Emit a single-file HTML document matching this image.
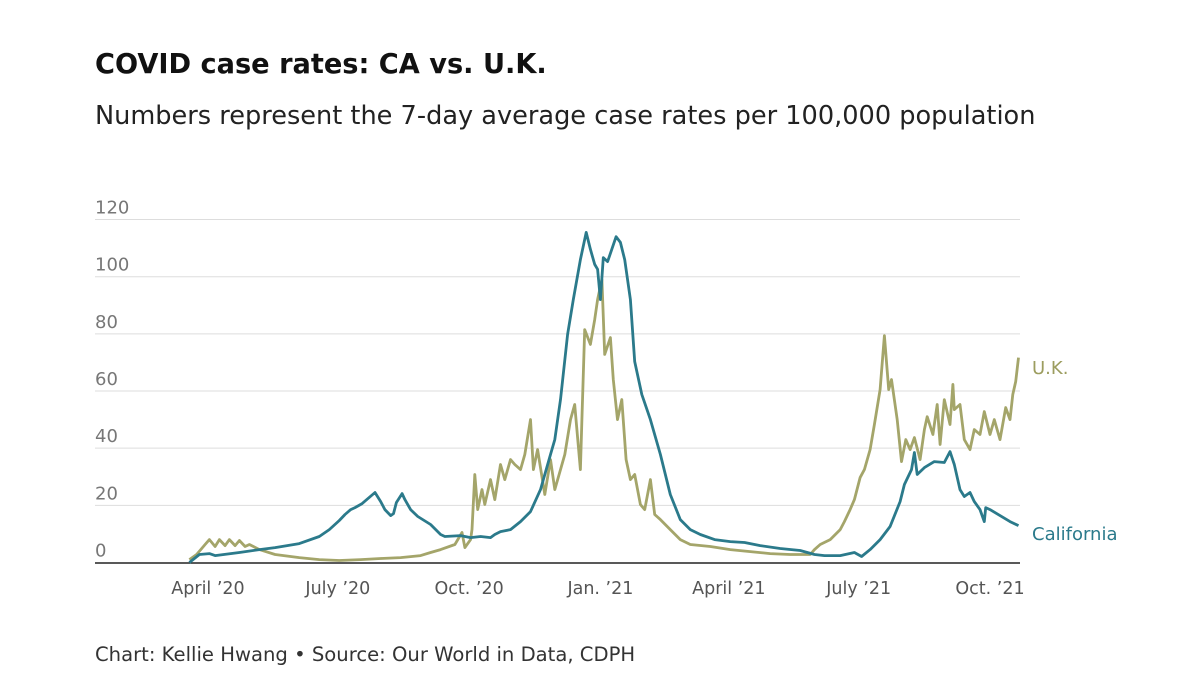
<!DOCTYPE html>
<html><head><meta charset="utf-8"><style>
body{margin:0;background:#fff;width:1200px;height:697px;overflow:hidden;font-family:"DejaVu Sans","Liberation Sans",sans-serif}
svg{position:absolute;left:0;top:0}
</style></head><body>
<svg width="1200" height="697" id="c" font-family="DejaVu Sans, Liberation Sans, sans-serif">
<text x="95" y="73" font-size="27.2" font-weight="bold" fill="#111">COVID case rates: CA vs. U.K.</text>
<text x="95" y="124" font-size="25.6" fill="#222">Numbers represent the 7-day average case rates per 100,000 population</text>
<text x="95" y="661" font-size="19.6" fill="#333">Chart: Kellie Hwang • Source: Our World in Data, CDPH</text>
<g id="grid"></g><g id="lines"></g>
</svg>
<script>
const yTicks=[0,20,40,60,80,100,120];
const xTickDays=[0,91,183,275,365,456,548];
const xTickLabels=["April \u201920","July \u201920","Oct. \u201920","Jan. \u201921","April \u201921","July \u201921","Oct. \u201921"];
const caDays=[-13,-6,1,5,22,36,47,64,78,85,92,96,100,103,108,117,121,124,128,130,132,136,138,142,147,156,163,166,177,184,191,198,201,205,212,219,226,233,236,240,243,247,252,256,261,265,268,271,273,275,277,280,283,286,289,292,296,299,304,310,317,324,331,338,345,355,366,376,387,401,415,425,432,443,453,458,464,471,478,485,488,493,495,497,502,509,516,520,523,527,530,534,537,541,544,545,548,555,562,568];
const caVals=[0,2.8,3.1,2.4,3.5,4.5,5.2,6.6,9.1,11.5,14.7,16.8,18.5,19.2,20.6,24.5,21.3,18.5,16.4,17.1,21,24.1,22,18.5,16.1,13.3,9.8,9.1,9.4,8.7,9.1,8.7,9.8,10.8,11.5,14.3,17.8,25.5,30.8,37.8,43,57,79.8,92,106,115.5,109.6,104.3,102.6,92,106.7,105.3,109.6,114,112,106,92,70.3,58.8,50,37.8,23.8,15,11.5,9.8,8,7.3,7,5.9,4.9,4.2,2.8,2.4,2.4,3.5,2.1,4.5,8,12.6,21.3,27.3,32.5,38.5,30.8,33.2,35.3,35,38.8,34.3,25.5,23.1,24.5,21.3,18.5,14.3,19.2,18.5,16.4,14.3,12.9];
const ukDays=[-13,-8,-2,1,5,8,12,15,19,22,26,29,36,47,64,78,92,107,121,135,149,156,163,173,178,180,184,185,187,189,192,194,198,201,205,208,212,215,219,222,226,228,231,236,240,243,247,250,254,257,261,262,264,268,271,273,276,278,282,284,287,290,293,296,299,303,306,310,313,317,324,331,338,352,366,380,394,408,422,425,429,436,443,446,450,453,457,460,464,467,471,474,477,479,483,486,489,492,495,499,502,504,508,511,513,516,520,522,523,527,530,534,537,541,544,548,551,555,559,562,564,566,568];
const ukVals=[1,2.8,6.3,8,5.6,8,5.9,8,5.9,7.7,5.6,6.3,4.5,2.8,1.7,1,0.7,1,1.4,1.7,2.4,3.5,4.5,6.3,10.5,5.2,8,11.5,30.8,18.5,25.5,20.3,29,22,34.3,29,36,34.3,32.5,37.8,50,32.5,39.5,23.8,36,25.5,32.5,37.8,50,55.3,32.5,50,81.5,76.3,85,92,99,72.8,78.7,64,50,57,36,29,30.8,20.3,18.5,29,16.8,15,11.5,8,6.3,5.6,4.5,3.8,3.1,2.8,2.8,4.5,6.3,8,11.5,14.3,18.5,22,29.7,32.5,39.5,48.3,60.5,79.4,60.5,64,50,35.3,43,39.5,43.7,36,46.5,51,44.8,55.3,41.3,57,48.3,62.3,53.5,55.3,43,39.5,46.5,44.8,52.8,44.8,50,43,54.2,50,58.8,63.3,71.7];
const NS="http://www.w3.org/2000/svg";
const X=d=>208+d*1.427, Y=v=>562.5-v*2.858;
const grid=document.getElementById('grid'), lines=document.getElementById('lines');
function mk(tag,attrs,parent){const e=document.createElementNS(NS,tag);for(const k in attrs)e.setAttribute(k,attrs[k]);parent.appendChild(e);return e;}
yTicks.forEach(t=>{
  if(t>0){const l=mk('line',{x1:95,x2:1020,y1:Y(t),y2:Y(t),stroke:'#ddd','stroke-width':1},grid);
  
  }
  const tx=mk('text',{x:95,y:Y(t)-6,'font-size':18,fill:'#777'},grid);tx.textContent=t;
  
  
});
const base=mk('line',{x1:95,x2:1020,y1:563,y2:563,stroke:'#222','stroke-width':1.5},grid);


xTickDays.forEach((d,i)=>{
  const tx=mk('text',{x:X(d),y:594,'font-size':17.5,fill:'#555','text-anchor':'middle'},grid);tx.textContent=xTickLabels[i];
  
  
});
function series(days,vals,color,name){
  const p=mk('polyline',{points:days.map((d,i)=>X(d).toFixed(1)+','+Y(vals[i]).toFixed(1)).join(' '),fill:'none',stroke:color,'stroke-width':2.8,'stroke-linejoin':'round'},lines);
  
  
}
series(ukDays,ukVals,'#a4a56a','uk-line');
series(caDays,caVals,'#2b7a8b','california-line');
const l1=mk('text',{x:1032,y:374,'font-size':18,fill:'#9c9d5f'},lines);l1.textContent='U.K.';


const l2=mk('text',{x:1032,y:540,'font-size':18,fill:'#2b7a8b'},lines);l2.textContent='California';


</script>
</body></html>
